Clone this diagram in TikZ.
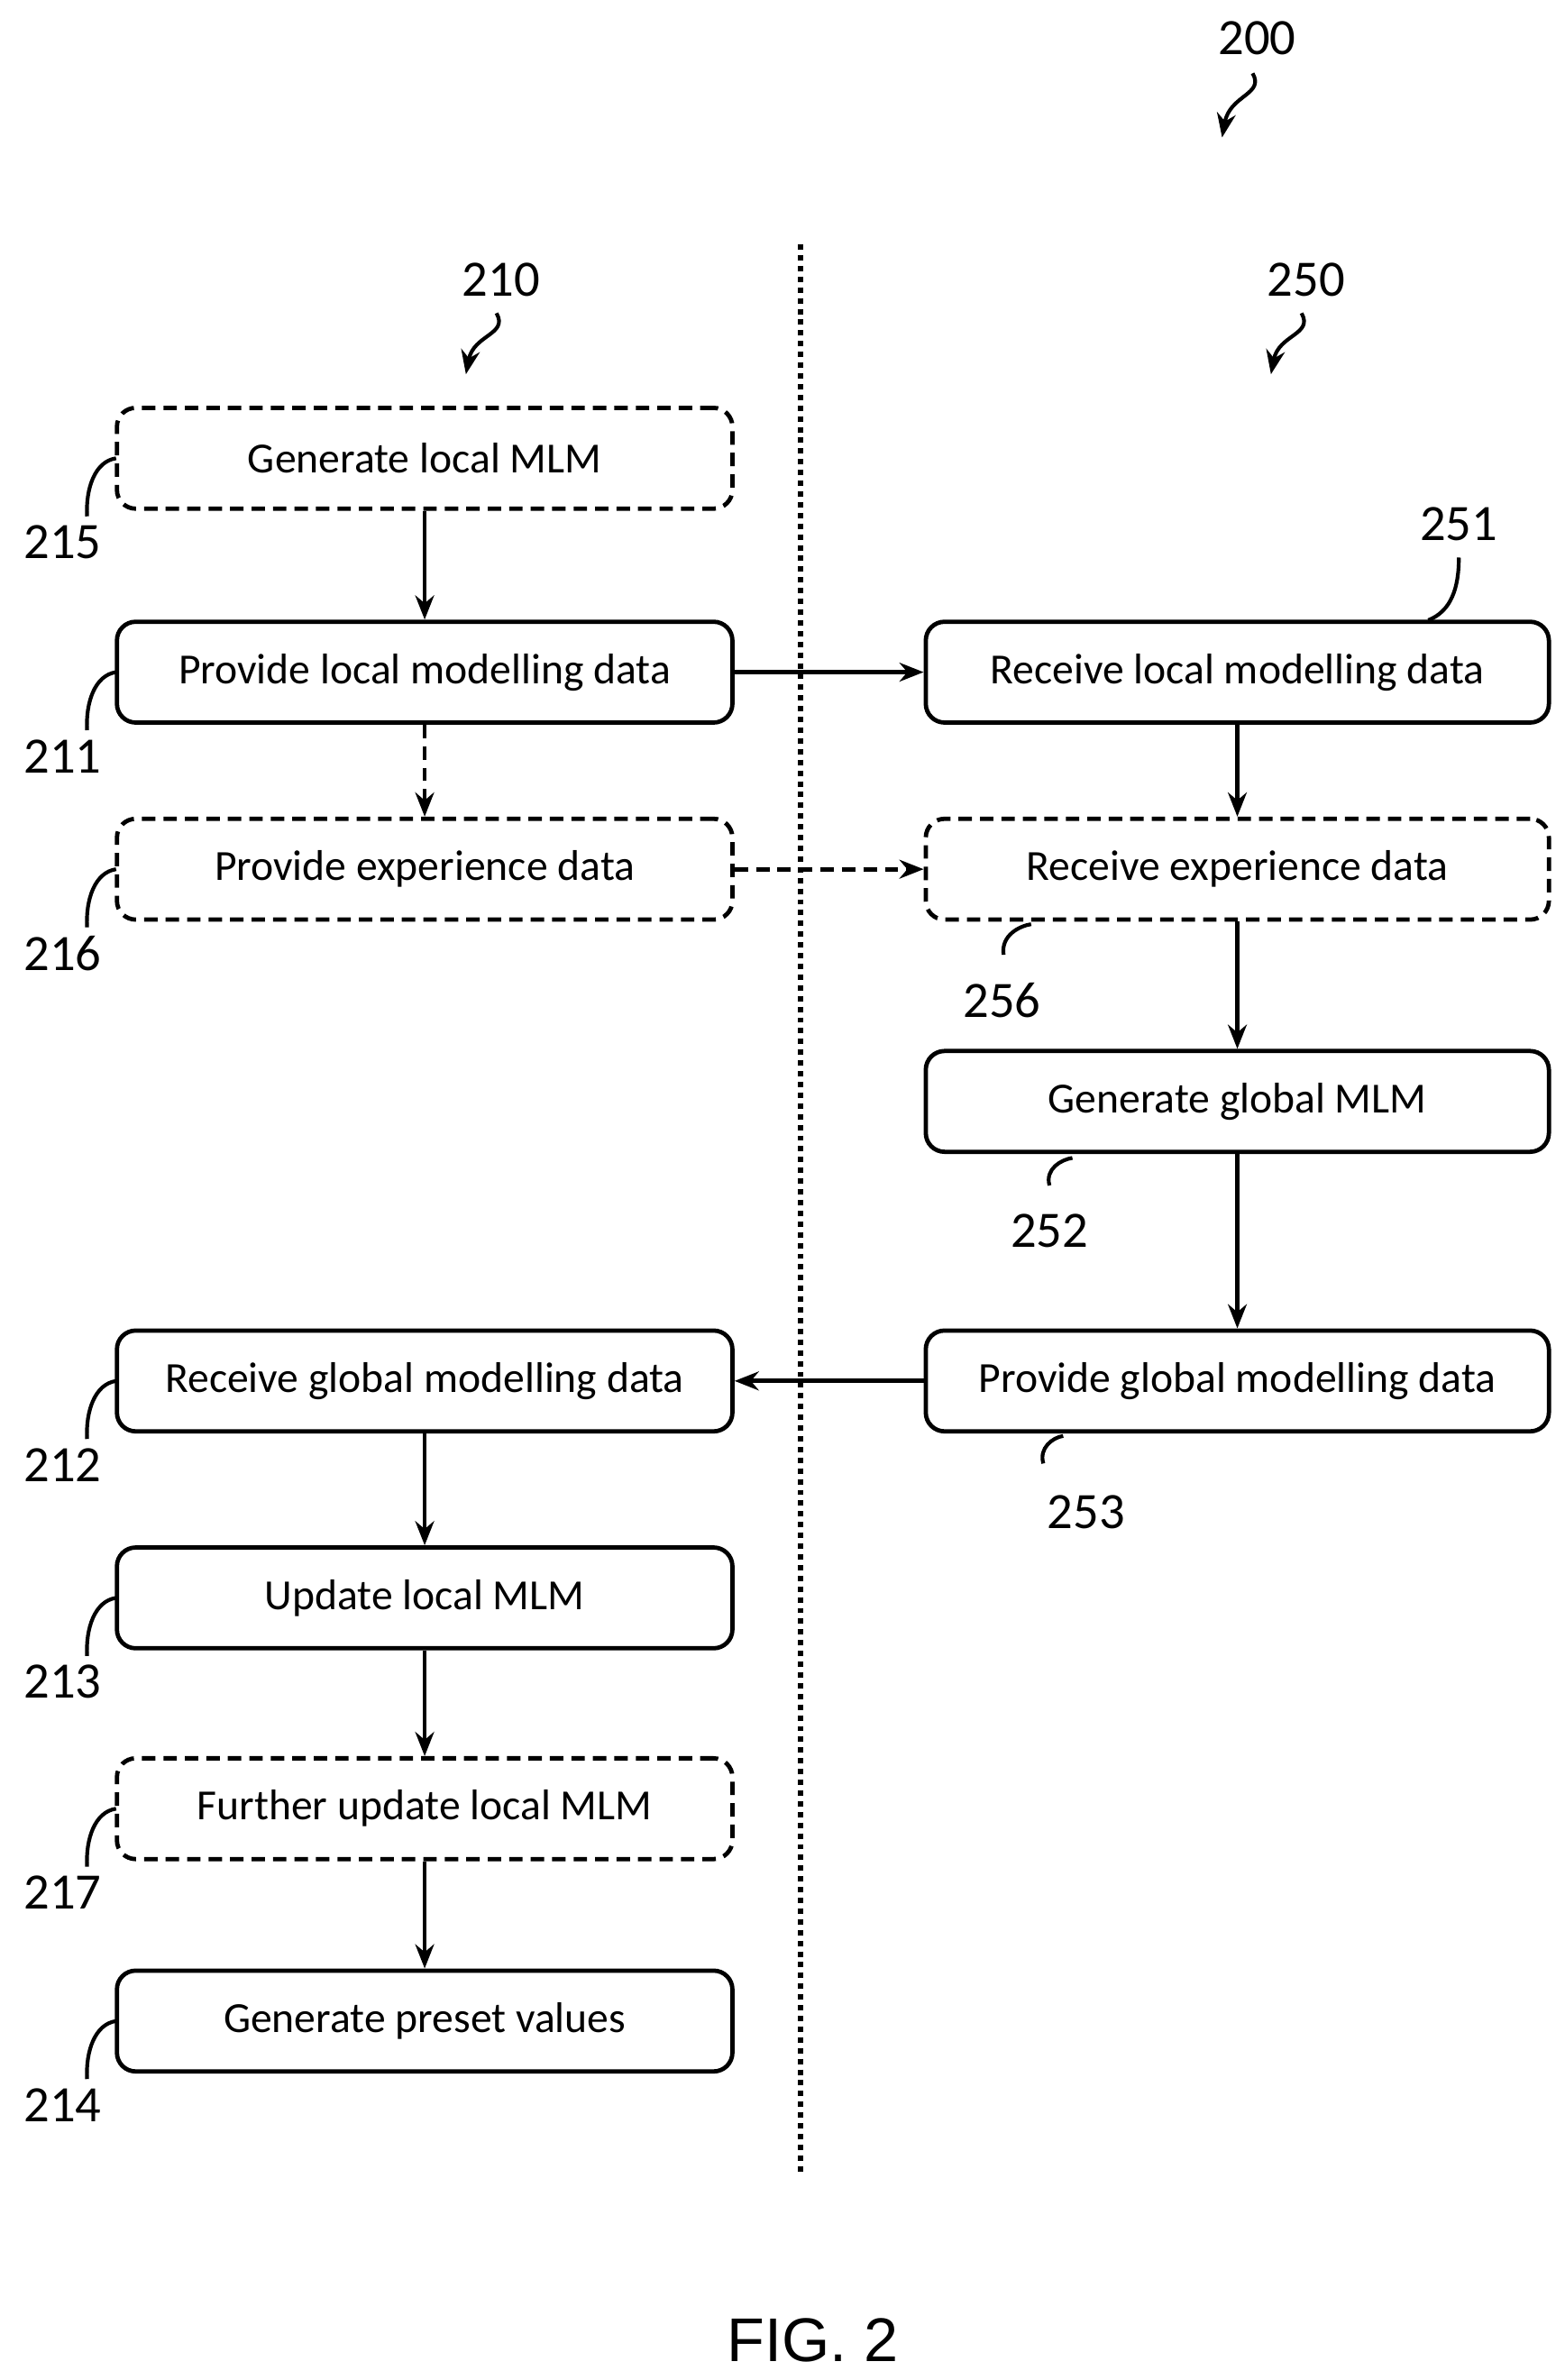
\documentclass[tikz,border=0pt]{standalone}
\usepackage{fontspec}
\setmainfont{Carlito}
\newfontfamily\arialf{Liberation Sans}
\usetikzlibrary{arrows.meta}
\begin{document}
\begin{tikzpicture}[x=0.02cm,y=-0.02cm,
 box/.style={draw,line width=1.6pt,rounded corners=7pt,minimum width=8.06cm,minimum height=1.32cm,font=\fontsize{16}{18}\selectfont,inner sep=0},
 dbox/.style={box,dashed,dash pattern=on 5pt off 3pt},
 rbox/.style={box,minimum width=8.16cm},
 rdbox/.style={rbox,dashed,dash pattern=on 5pt off 3pt},
 arr/.style={-{Stealth[length=9pt,width=7pt]},line width=1.6pt},
 lead/.style={line width=1.4pt},
 lab/.style={font=\fontsize{19}{21}\selectfont}]
\useasboundingbox (0,0) rectangle (1024,1558);
\draw[line width=2pt,dotted] (524,160) -- (524,1425);
\node[lab] (n200) at (823,25) {200};
\node[lab] (n210) at (328,183) {210};
\node[lab] (n250) at (855,183) {250};
\coordinate (s200) at (820,48); \coordinate (e200) at (800,90);
\draw[arr,line width=1.4pt] (s200) .. controls (828,62) and (805,62) .. (e200);
\coordinate (s210) at (325,205); \coordinate (e210) at (305,245);
\draw[arr,line width=1.4pt] (s210) .. controls (333,219) and (310,219) .. (e210);
\coordinate (s250) at (852,205); \coordinate (e250) at (832,245);
\draw[arr,line width=1.4pt] (s250) .. controls (860,219) and (837,219) .. (e250);

\node[dbox] (b215) at (278,300) {Generate local MLM};
\node[box] (b211) at (278,440) {Provide local modelling data};
\node[dbox] (b216) at (278,569) {Provide experience data};
\node[rbox] (b251) at (810,440) {Receive local modelling data};
\node[rdbox] (b256) at (810,569) {Receive experience data};
\node[rbox] (b252) at (810,721) {Generate global MLM};
\node[rbox] (b253) at (810,904) {Provide global modelling data};
\node[box] (b212) at (278,904) {Receive global modelling data};
\node[box] (b213) at (278,1046) {Update local MLM};
\node[dbox] (b217) at (278,1184) {Further update local MLM};
\node[box] (b214) at (278,1323) {Generate preset values};

\draw[arr] (b215) -- (b211);
\draw[arr,dashed,dash pattern=on 5pt off 3pt] (b211) -- (b216);
\draw[arr] (b211) -- (b251);
\draw[arr,dashed,dash pattern=on 5pt off 3pt] (b216) -- (b256);
\draw[arr] (b251) -- (b256);
\draw[arr] (b256) -- (b252);
\draw[arr] (b252) -- (b253);
\draw[arr] (b253) -- (b212);
\draw[arr] (b212) -- (b213);
\draw[arr] (b213) -- (b217);
\draw[arr] (b217) -- (b214);

\foreach \n/\y in {215/300,211/440,216/569,212/904,213/1046,217/1184,214/1323}{
  \coordinate (c\n) at (57,\y+38);
  \draw[lead] (76,\y) .. controls (62,\y+2) and (56,\y+20) .. (c\n);
  \node[lab] (l\n) at (41,\y+55) {\n};
}
\node[lab] (l251) at (955,343) {251};
\coordinate (c251) at (955,365);
\draw[lead] (935,406) .. controls (950,400) and (955,385) .. (c251);
\node[lab] (l256) at (656,655) {256};
\coordinate (c256) at (657,625);
\draw[lead] (675,605) .. controls (668,606) and (655,612) .. (c256);
\node[lab] (l252) at (687,806) {252};
\coordinate (c252) at (687,776);
\draw[lead] (702,758) .. controls (695,759) and (684,765) .. (c252);
\node[lab] (l253) at (711,990) {253};
\coordinate (c253) at (683,958);
\draw[lead] (696,940) .. controls (689,941) and (680,948) .. (c253);

\node[font=\arialf\fontsize{23}{25}\selectfont] (fig) at (532,1532) {FIG. 2};
\end{tikzpicture}
\end{document}
